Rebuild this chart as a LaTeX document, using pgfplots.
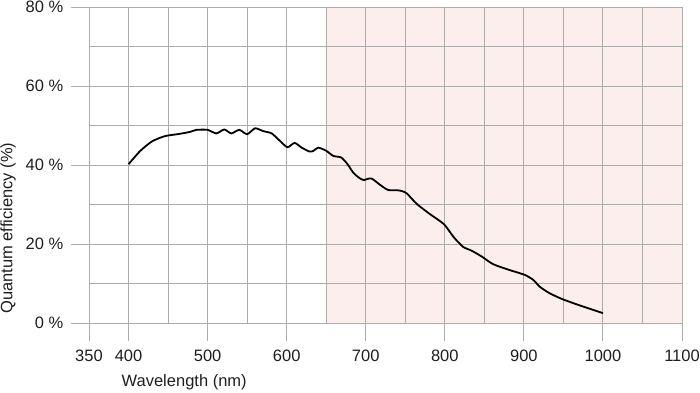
\documentclass[border=0pt]{standalone}
\usepackage{fontspec}
\setmainfont{Liberation Sans}
\usepackage{pgfplots}
\pgfplotsset{compat=1.18}
\definecolor{gridgray}{RGB}{172,172,172}
\definecolor{nirpink}{RGB}{253,238,238}
\definecolor{txt}{RGB}{30,30,30}
\begin{document}
\fontsize{16.5}{19}\selectfont
\begin{tikzpicture}
\begin{axis}[
  set layers,
  scale only axis,
  width=593pt, height=316pt,
  xmin=350, xmax=1100, ymin=0, ymax=80,
  axis line style={draw=none},
  xtick={350,400,500,600,700,800,900,1000,1100},
  minor xtick={450,550,650,750,850,950,1050},
  ytick={0,20,40,60,80},
  minor ytick={10,30,50,70},
  yticklabel={\pgfmathprintnumber{\tick}~\%},
  grid=both,
  major grid style={gridgray, line width=0.9pt},
  minor grid style={gridgray, line width=0.9pt},
  tick style={gridgray, line width=0.9pt},
  minor tick length=0pt,
  major tick length=18pt,
  tick align=outside,
  tick pos=left,
  /pgf/number format/assume math mode=true,
  /pgf/number format/1000 sep={},
  ticklabel style={font=\fontsize{16.5}{19}\selectfont, text=txt},
  xticklabel style={anchor=north, yshift=-3pt},
  yticklabel style={anchor=east, xshift=-2pt},
  xlabel={Wavelength (nm)},
  ylabel={Quantum efficiency (\%)},
  label style={font=\fontsize{16.5}{19}\selectfont, text=txt},
  xlabel style={anchor=west, at={(axis description cs:0.0455,-0.186)}},
  ylabel style={anchor=center, rotate=0, at={(axis description cs:-0.1366,0.30)}},
  clip=false,
]
\addplot[on layer=axis background, fill=nirpink, draw=none] coordinates {(650,0) (1100,0) (1100,80) (650,80)} \closedcycle;
\addplot[black, line width=1.8pt, smooth, tension=0.4] coordinates {
(400,40.2) (415,43.6) (429,45.9) (440,46.9) (448,47.4) (465,47.9) (478,48.4)
(486,48.9) (500,48.9) (511,48.0) (521,49.0) (530,48.0) (540,48.9) (550,47.8)
(560,49.3) (570,48.6) (581,48.0) (591,46.2) (601,44.5) (610,45.6) (619,44.4)
(629,43.4) (634,43.6) (640,44.4) (650,43.6) (659,42.3) (669,41.9) (677,40.2)
(684,38.1) (690,37.0) (697,36.2) (707,36.6) (718,35.0) (728,33.7) (740,33.6)
(746,33.4) (752,32.8) (759,31.3) (766,29.9) (781,27.6) (799,25.0) (811,21.8)
(823,19.3) (834,18.3) (847,16.8) (861,14.9) (882,13.4) (901,12.2) (912,10.9)
(920,9.2) (932,7.6) (948,6.1) (970,4.5) (1000,2.5)
};
\end{axis}
\pgfresetboundingbox
\useasboundingbox (-89pt,-69pt) rectangle (611pt,323pt);
\end{tikzpicture}
\end{document}
